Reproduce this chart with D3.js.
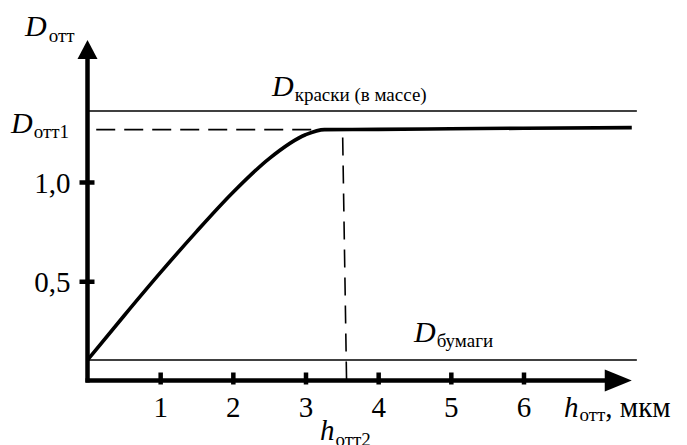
<!DOCTYPE html>
<html>
<head>
<meta charset="utf-8">
<script src="https://cdn.jsdelivr.net/npm/d3@7"></script>
<style>
  html, body { margin: 0; padding: 0; background: #fff; }
  svg { display: block; }
</style>
</head>
<body>
<svg id="chart" width="687" height="445"></svg>
<script>
// Optical density of the print vs. ink film thickness
const thickness = [0, 0.5, 1.0, 1.5, 2.0, 2.5, 3.0, 3.26, 4.0, 5.0, 6.0, 7.49];
const density   = [0.103, 0.325, 0.542, 0.75, 0.947, 1.118, 1.238, 1.264, 1.265, 1.268, 1.271, 1.274];

const xTickValues = [1, 2, 3, 4, 5, 6];
const xTickLabels = ["1", "2", "3", "4", "5", "6"];
const yTickValues = [0.5, 1.0];
const yTickLabels = ["0,5", "1,0"];

const inkMassDensity = 1.358;   // D краски (в массе)
const paperDensity   = 0.103;   // D бумаги
const printDensity1  = 1.264;   // D отт1
const saturationH    = 3.26;    // where the curve reaches the plateau
const thicknessH2    = [3.51, 3.565]; // h отт2 guide (top, bottom)

const xAxisEnd = 7.49, yAxisEnd = 1.715, refLineEnd = 7.56;

const FONT = "Liberation Serif";
const svg = d3.select("#chart");
const x = d3.scaleLinear().domain([0, 6]).range([87.5, 523.5]);
const y = d3.scaleLinear().domain([0, 1]).range([380.5, 182]);

// horizontal reference lines
svg.append("line")
  .attr("x1", x(0)).attr("x2", x(refLineEnd))
  .attr("y1", y(inkMassDensity)).attr("y2", y(inkMassDensity))
  .attr("stroke", "#000").attr("stroke-width", 1.5);
svg.append("line")
  .attr("x1", x(0)).attr("x2", x(refLineEnd))
  .attr("y1", y(paperDensity)).attr("y2", y(paperDensity))
  .attr("stroke", "#000").attr("stroke-width", 1.5);

// dashed guides
svg.append("line")
  .attr("x1", x(0.12)).attr("x2", x(saturationH))
  .attr("y1", y(printDensity1)).attr("y2", y(printDensity1))
  .attr("stroke", "#000").attr("stroke-width", 1.8)
  .attr("stroke-dasharray", "19,9");
svg.append("line")
  .attr("x1", x(thicknessH2[0])).attr("x2", x(thicknessH2[1]))
  .attr("y1", y(printDensity1)).attr("y2", y(0))
  .attr("stroke", "#000").attr("stroke-width", 1.6)
  .attr("stroke-dasharray", "18,10").attr("stroke-dashoffset", -8);

// density curve
const pts = thickness.map((h, i) => [h, density[i]]);
svg.append("path")
  .datum(pts)
  .attr("fill", "none").attr("stroke", "#000").attr("stroke-width", 3.6)
  .attr("stroke-linejoin", "round")
  .attr("d", d3.line().x(d => x(d[0])).y(d => y(d[1])).curve(d3.curveMonotoneX));

// axes
const xAxis = svg.append("g")
  .attr("transform", `translate(0,${y(0)})`)
  .call(d3.axisBottom(x).tickValues(xTickValues).tickFormat((d, i) => xTickLabels[i]).tickSizeOuter(0));
xAxis.select(".domain").remove();
xAxis.selectAll(".tick line").attr("y1", -8).attr("y2", 4).attr("stroke", "#000").attr("stroke-width", 4.5);
xAxis.selectAll(".tick text").attr("y", 36).attr("dy", 0)
  .attr("font-size", 29).attr("font-family", FONT).attr("fill", "#000");

const yAxis = svg.append("g")
  .attr("transform", `translate(${x(0)},0)`)
  .call(d3.axisLeft(y).tickValues(yTickValues).tickFormat((d, i) => yTickLabels[i]).tickSizeOuter(0));
yAxis.select(".domain").remove();
yAxis.selectAll(".tick line").attr("x1", -8).attr("x2", 7).attr("stroke", "#000").attr("stroke-width", 4.5);
yAxis.selectAll(".tick text").attr("x", -17).attr("dy", 10)
  .attr("font-size", 29).attr("font-family", FONT).attr("fill", "#000");

// axis lines with arrowheads
svg.append("line")
  .attr("x1", x(0) - 2).attr("x2", x(xAxisEnd) - 24)
  .attr("y1", y(0)).attr("y2", y(0))
  .attr("stroke", "#000").attr("stroke-width", 4.5);
svg.append("line")
  .attr("x1", x(0)).attr("x2", x(0))
  .attr("y1", y(0) + 2).attr("y2", y(yAxisEnd) + 16)
  .attr("stroke", "#000").attr("stroke-width", 4.5);
const tx = x(xAxisEnd), ty = y(0);
svg.append("path")
  .attr("d", `M${tx},${ty} L${tx - 27},${ty - 11} L${tx - 27},${ty + 11} Z`)
  .attr("fill", "#000");
const ax = x(0), ay = y(yAxisEnd);
svg.append("path")
  .attr("d", `M${ax},${ay} L${ax - 10},${ay + 19} L${ax + 10},${ay + 19} Z`)
  .attr("fill", "#000");

// labels: italic letter with a roman subscript
function label(px, py, main, sub, subDx, subDy, mainSize, subSize, tail) {
  const t = svg.append("text").attr("x", px).attr("y", py)
    .attr("font-family", FONT).attr("fill", "#000");
  t.append("tspan").attr("font-style", "italic").attr("font-size", mainSize).text(main);
  t.append("tspan").attr("dx", subDx).attr("dy", subDy).attr("font-size", subSize).text(sub);
  if (tail) t.append("tspan").attr("dy", -subDy).attr("font-size", mainSize).text(tail);
  return t;
}
label(25, 36, "D", "отт", 2, 6, 30, 19);
label(11, 133, "D", "отт1", 1, 5, 30, 19);
label(272, 96, "D", "краски (в массе)", 1, 5, 30, 19);
label(414, 342, "D", "бумаги", 1, 5, 30, 19);
label(564, 417, "h", "отт", 1, 4, 29, 19, ", мкм");
label(320, 440, "h", "отт2", 1, 6, 29, 19);
</script>
</body>
</html>
